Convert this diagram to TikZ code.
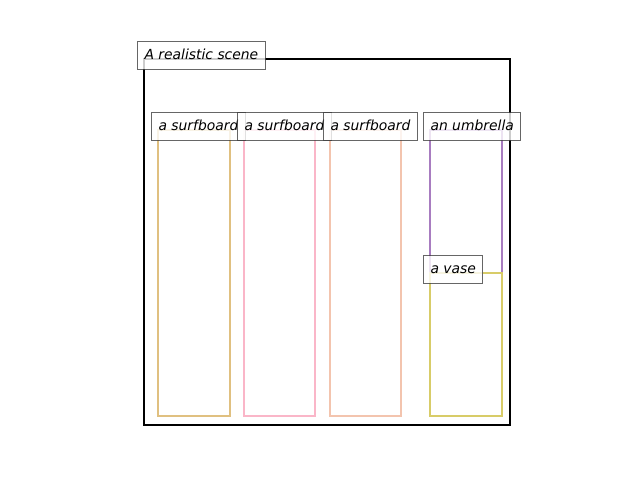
\documentclass[tikz,border=0pt]{standalone}
\usepackage{fontspec}
\setsansfont{DejaVu Sans}
\usepackage{xcolor}
\usepackage{tikz}
\definecolor{surftan}{RGB}{224,192,128}
\definecolor{surfpink}{RGB}{250,182,200}
\definecolor{surfpeach}{RGB}{243,196,174}
\definecolor{umbpurple}{RGB}{168,124,192}
\definecolor{vaseyellow}{RGB}{216,204,104}
\tikzset{
    every node/.append style={font=\sffamily\itshape\fontsize{10}{12}\selectfont},
    tag/.style={draw=black!75, line width=0.75pt, fill=white, fill opacity=0.8, draw opacity=0.8, text opacity=1,
        inner xsep=5pt, inner ysep=5pt, text height=7.6pt, text depth=2.4pt, anchor=base west, xshift=-5pt},
    obj/.style={line width=2pt}
}

\begin{document}
\begin{tikzpicture}[x=0.72pt, y=-0.72pt]
    \useasboundingbox (0,0) rectangle (640,480);
    % scene frame
    \draw[line width=2.1pt] (144,59) coordinate (scene) rectangle (510,425);
    % objects
    \draw[obj, surftan] (158,130) coordinate (sb1) rectangle (230,416);
    \draw[obj, surfpink] (244,130) coordinate (sb2) rectangle (315,416);
    \draw[obj, surfpeach] (330,130) coordinate (sb3) rectangle (401,416);
    \draw[obj, umbpurple] (430,130) coordinate (umb) rectangle (502,273);
    \draw[obj, vaseyellow] (430,273) coordinate (vase) rectangle (502,416);
    % labels
    \node[tag] (scenetag) at (scene) {A realistic scene};
    \node[tag] (sb1tag) at (sb1) {a surfboard};
    \node[tag] (sb2tag) at (sb2) {a surfboard};
    \node[tag] (sb3tag) at (sb3) {a surfboard};
    \node[tag] (umbtag) at (umb) {an umbrella};
    \node[tag] (vasetag) at (vase) {a vase};
\end{tikzpicture}
\end{document}
